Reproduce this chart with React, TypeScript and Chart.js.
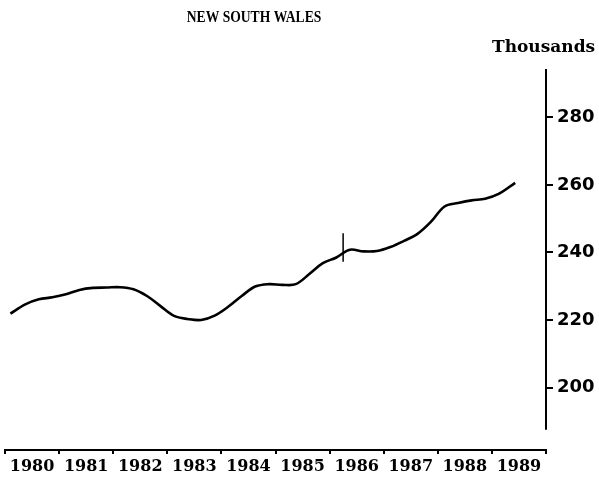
import React, { useEffect, useRef } from 'react';
import { Chart, registerables } from 'chart.js';

Chart.register(...registerables);

const title = 'NEW SOUTH WALES';
const unitLabel = 'Thousands';

const yearLabels = ['1980', '1981', '1982', '1983', '1984', '1985', '1986', '1987', '1988', '1989'];

const quarters = [
  1980.1, 1980.375, 1980.625, 1980.875,
  1981.125, 1981.375, 1981.625, 1981.875,
  1982.125, 1982.375, 1982.625, 1982.875,
  1983.125, 1983.375, 1983.625, 1983.875,
  1984.125, 1984.375, 1984.625, 1984.875,
  1985.125, 1985.375, 1985.625, 1985.875,
  1986.125, 1986.375, 1986.625, 1986.875,
  1987.125, 1987.375, 1987.625, 1987.875,
  1988.125, 1988.375, 1988.625, 1988.875,
  1989.125, 1989.43,
];

const values = [
  221.9, 224.6, 226.1, 226.7,
  227.6, 228.9, 229.5, 229.6,
  229.7, 229.1, 227.1, 224.1,
  221.2, 220.3, 220.0, 221.3,
  223.9, 227.1, 229.9, 230.6,
  230.4, 230.6, 233.6, 236.8,
  238.5, 240.8, 240.3, 240.4,
  241.6, 243.4, 245.5, 249.1,
  253.6, 254.6, 255.4, 255.9,
  257.3, 260.6,
];

const breakX = [1986.25, 1986.25];
const breakY = [237.2, 245.7];

const yTicks = [200, 220, 240, 260, 280];
const yMin = 181.5;
const yMax = 294.3;
const yAxisLineBottom = 187.5;

export default function App() {
  const ref = useRef<HTMLCanvasElement | null>(null);

  useEffect(() => {
    document.body.style.margin = '0';
    const canvas = ref.current;
    if (!canvas) return;

    const textPlugin = {
      id: 'textPlugin',
      afterDraw(chart: any) {
        const ctx = chart.ctx;
        const y = chart.scales.y;
        ctx.save();
        ctx.fillStyle = '#000';
        ctx.textBaseline = 'middle';
        ctx.save();
        ctx.translate(254, 18);
        ctx.scale(0.85, 1);
        ctx.font = 'bold 16px "Liberation Serif"';
        ctx.textAlign = 'center';
        ctx.fillText(title, 0, 0);
        ctx.restore();
        ctx.font = 'bold 17px "DejaVu Serif"';
        ctx.textAlign = 'left';
        ctx.fillText(unitLabel, 492, 48);
        // y axis line
        ctx.strokeStyle = '#000';
        ctx.lineWidth = 2;
        ctx.beginPath();
        ctx.moveTo(y.left, y.getPixelForValue(yMax));
        ctx.lineTo(y.left, y.getPixelForValue(yAxisLineBottom));
        ctx.stroke();
        ctx.restore();
      },
    };

    const chart = new Chart(canvas, {
      type: 'line',
      data: {
        datasets: [
          {
            data: quarters.map((q, i) => ({ x: q, y: values[i] })),
            borderColor: '#000',
            borderWidth: 2.6,
            pointRadius: 0,
            tension: 0.35,
            fill: false,
          },
          {
            data: breakX.map((q, i) => ({ x: q, y: breakY[i] })),
            borderColor: '#000',
            borderWidth: 1.5,
            pointRadius: 0,
            fill: false,
          },
        ],
      },
      options: {
        animation: false,
        responsive: false,
        maintainAspectRatio: false,
        layout: { padding: { top: 69, left: 5, right: 0, bottom: 0 } },
        plugins: { legend: { display: false }, tooltip: { enabled: false }, title: { display: false } },
        scales: {
          x: {
            type: 'linear',
            position: 'bottom',
            min: 1980,
            max: 1990,
            afterBuildTicks: (scale: any) => {
              const t: any[] = [];
              yearLabels.forEach((_, i) => {
                t.push({ value: 1980 + i });
                t.push({ value: 1980 + i + 0.5 });
              });
              t.push({ value: 1980 + yearLabels.length });
              scale.ticks = t;
            },
            afterFit: (scale: any) => {
              scale.height = 32;
            },
            grid: {
              drawOnChartArea: false,
              drawTicks: true,
              tickLength: 4,
              lineWidth: 2,
              color: (ctx: any) => (ctx.tick && Number.isInteger(ctx.tick.value) ? '#000' : 'rgba(0,0,0,0)'),
            },
            border: { display: true, color: '#000', width: 2 },
            ticks: {
              autoSkip: false,
              maxRotation: 0,
              padding: 3,
              color: '#000',
              font: { family: '"DejaVu Serif"', weight: 'bold', size: 16 },
              callback: (v: any) => (Number.isInteger(v) ? '' : yearLabels[Math.floor(v) - 1980]),
            },
          },
          y: {
            type: 'linear',
            position: 'right',
            min: yMin,
            max: yMax,
            afterBuildTicks: (scale: any) => {
              scale.ticks = yTicks.map((v) => ({ value: v }));
            },
            afterFit: (scale: any) => {
              scale.width = 53;
            },
            grid: {
              drawOnChartArea: false,
              drawTicks: true,
              tickLength: 7,
              lineWidth: 2,
              color: '#000',
            },
            border: { display: false },
            ticks: {
              padding: 4,
              color: '#000',
              font: { family: '"DejaVu Sans"', weight: 'bold', size: 18 },
            },
          },
        },
      },
      plugins: [textPlugin],
    } as any);

    return () => chart.destroy();
  }, []);

  return (
    <div style={{ width: 599, height: 482 }}>
      <canvas ref={ref} width={599} height={482} style={{ display: 'block', width: 599, height: 482 }} />
    </div>
  );
}
